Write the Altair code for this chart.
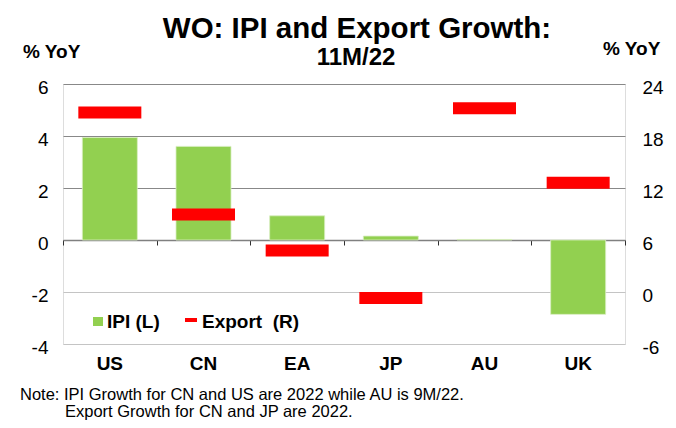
import altair as alt
import pandas as pd

countries = ["US", "CN", "EA", "JP", "AU", "UK"]
ipi = [3.94, 3.60, 0.93, 0.15, 0.02, -2.86]
export = [20.7, 8.95, 4.8, -0.7, 21.2, 12.6]

left_ticks = [-4, -2, 0, 2, 4, 6]
right_ticks = [-6, 0, 6, 12, 18, 24]

title_text = "WO: IPI and Export Growth:"
subtitle_text = "11M/22"
unit_text = "% YoY"
legend_labels = ["IPI (L)", "Export \u00a0(R)"]
note_lines = ["Note: IPI Growth for CN and US are 2022 while AU is 9M/22.",
              "Export Growth for CN and JP are 2022."]

df = pd.DataFrame({"country": countries, "ipi": ipi, "export": export})

FONT = "Liberation Sans"
GREEN = "#92D050"
RED = "#FF0000"

x_enc_labels = alt.X("country:N", sort=countries, title=None,
                     scale=alt.Scale(paddingInner=0, paddingOuter=0),
                     axis=alt.Axis(orient="bottom", domain=False, ticks=False, labelAngle=0,
                                   labelFont=FONT, labelFontSize=19, labelFontWeight="bold",
                                   labelColor="black", labelPadding=10))

x_enc_ticks = alt.X("country:N", sort=countries, title=None,
                    scale=alt.Scale(paddingInner=0, paddingOuter=0),
                    axis=alt.Axis(orient="bottom", offset=-104, labels=False, domain=True,
                                  domainColor="#808080", domainWidth=1.5, ticks=True,
                                  tickBand="extent", tickColor="#303030", tickSize=5,
                                  grid=False))

bars = alt.Chart(df).mark_bar(color=GREEN, size=55, stroke="#d8eec0", strokeWidth=0.8).encode(
    x=x_enc_labels,
    y=alt.Y("ipi:Q", title=None,
            scale=alt.Scale(domain=[-4, 6], nice=False, zero=False),
            axis=alt.Axis(orient="left", values=left_ticks, domain=False, ticks=False,
                          labelFont=FONT, labelFontSize=19, labelColor="black",
                          labelPadding=15, labelOffset=3, labelExpr="'' + datum.value",
                          grid=True,
                          gridColor={"condition": {"test": "datum.value < 0", "value": "#c4c4c4"},
                                     "value": "#888888"},
                          gridWidth=1.2)),
)

markers = alt.Chart(df).mark_tick(color=RED, size=63, thickness=12, opacity=1).encode(
    x=x_enc_ticks,
    y=alt.Y("export:Q", title=None,
            scale=alt.Scale(domain=[-6, 24], nice=False, zero=False),
            axis=alt.Axis(orient="right", values=right_ticks, domain=False, ticks=False,
                          labelFont=FONT, labelFontSize=19, labelColor="black",
                          labelPadding=17, labelOffset=3, labelExpr="'' + datum.value",
                          grid=False)),
)

def txt(s, x, y, size, weight="normal", align="left"):
    return alt.Chart(pd.DataFrame({"t": [s]})).mark_text(
        font=FONT, fontSize=size, fontWeight=weight, align=align, baseline="alphabetic",
        color="black").encode(text="t:N", x=alt.value(x), y=alt.value(y))

texts = [
    txt(title_text, 294, -46, 29.5, "bold", "center"),
    txt(subtitle_text, 293, -19, 24, "bold", "center"),
    txt(unit_text, -40, -26, 19, "bold"),
    txt(unit_text, 540, -29, 19, "bold"),
    txt(legend_labels[0], 44, 244, 19, "bold"),
    txt(legend_labels[1], 139, 244, 19, "bold"),
    txt(note_lines[0], -43, 315.5, 16.5),
    txt(note_lines[1], 2, 333, 16.5),
]

legend_square = alt.Chart(pd.DataFrame({"k": ["IPI"]})).mark_rect(color=GREEN).encode(
    x=alt.value(30), x2=alt.value(40), y=alt.value(233), y2=alt.value(242))
legend_dash = alt.Chart(pd.DataFrame({"k": ["Export"]})).mark_rect(color=RED).encode(
    x=alt.value(122), x2=alt.value(134), y=alt.value(234), y2=alt.value(238))

chart = alt.layer(bars, markers, legend_square, legend_dash, *texts).resolve_scale(
    y="independent"
).resolve_axis(x="independent").properties(
    width=562, height=260,
    autosize=alt.AutoSizeParams(type="none"),
    padding={"left": 55, "top": 76, "right": 43, "bottom": 76},
).configure_view(stroke=None).configure(background="white")

chart.save("out.html", embed_options={"renderer": "svg", "actions": False})
